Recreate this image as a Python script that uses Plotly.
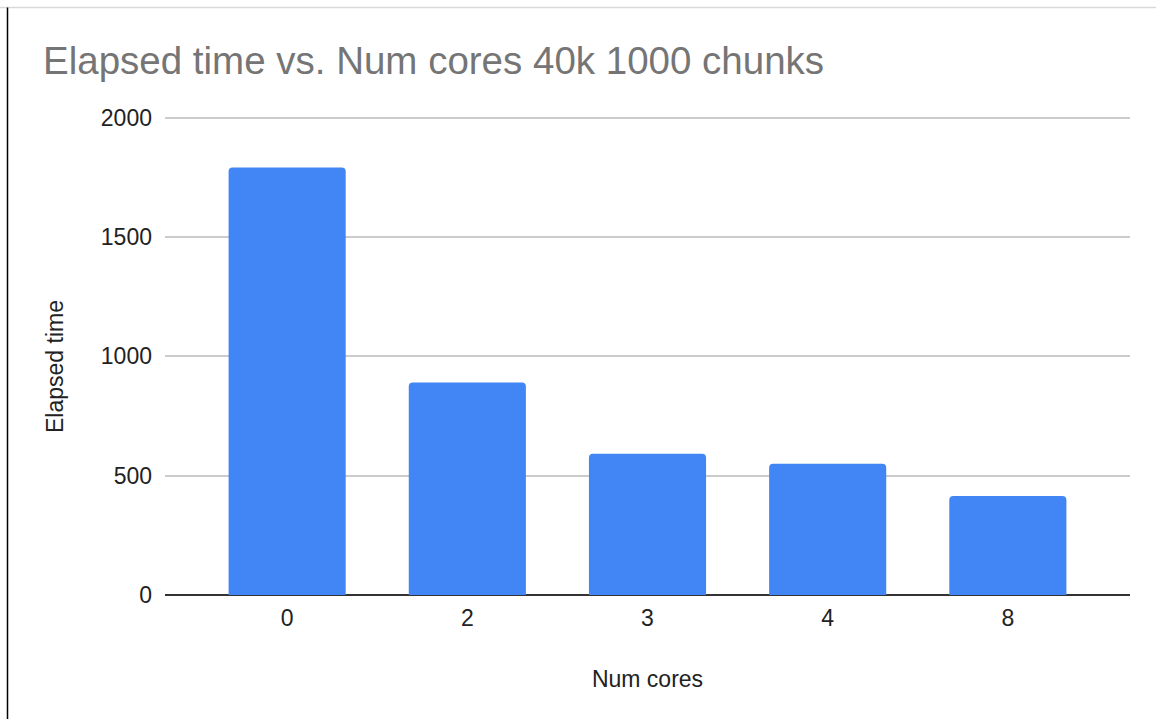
import plotly.graph_objects as go

# ---- data ----
num_cores = ["0", "2", "3", "4", "8"]
elapsed_time = [1792, 891, 592, 550, 415]
y_ticks = [0, 500, 1000, 1500, 2000]

W, H = 1156, 719
ML, MR, MT, MB = 165, 26, 115, 124
pw = W - ML - MR
ph = H - MT - MB

fig = go.Figure(
    go.Bar(
        x=num_cores,
        y=elapsed_time,
        marker=dict(color="#4285F4", line=dict(width=0)),
        width=0.65,
    )
)

font_family = "Arial, Liberation Sans, sans-serif"


def px_to_paper_x(px):
    return (px - ML) / pw


def px_to_paper_y(py):
    return (H - MB - py) / ph


fig.update_layout(
    width=W,
    height=H,
    margin=dict(l=ML, r=MR, t=MT, b=MB, autoexpand=False),
    paper_bgcolor="white",
    plot_bgcolor="white",
    barcornerradius=4,
    showlegend=False,
    font=dict(family=font_family, color="#222222", size=23),
    title=dict(
        text="Elapsed time vs. Num cores 40k 1000 chunks",
        font=dict(family=font_family, size=38.5, color="#757575"),
        xref="container", yref="container",
        x=43 / W, y=1 - 61 / H,
        xanchor="left", yanchor="middle",
    ),
    xaxis=dict(
        type="category",
        range=[-0.678, 4.678],
        showgrid=False,
        showline=False,
        zeroline=False,
        ticks="",
        ticklabelstandoff=7,
        tickfont=dict(size=23, color="#222222"),
        title=dict(text="Num cores", font=dict(size=23, color="#222222"), standoff=40),
        fixedrange=True,
    ),
    yaxis=dict(
        range=[0, 2012],
        tickvals=y_ticks,
        showgrid=True,
        gridcolor="#cccccc",
        gridwidth=1.5,
        zeroline=True,
        zerolinecolor="#333333",
        zerolinewidth=1.5,
        ticks="",
        ticklabelstandoff=12,
        tickfont=dict(size=23, color="#222222"),
        fixedrange=True,
    ),
    annotations=[
        dict(
            text="Elapsed time",
            textangle=-90,
            xref="paper", yref="paper",
            x=px_to_paper_x(55), y=px_to_paper_y(367),
            xanchor="center", yanchor="middle",
            showarrow=False,
            font=dict(size=23, color="#222222"),
        )
    ],
)

# frame lines (screenshot border): top light-gray line and left black line
fig.add_shape(type="line", xref="paper", yref="paper",
              x0=px_to_paper_x(0), x1=px_to_paper_x(W),
              y0=px_to_paper_y(7.5), y1=px_to_paper_y(7.5),
              line=dict(color="#d9d9d9", width=1.5), layer="above")
fig.add_shape(type="line", xref="paper", yref="paper",
              x0=px_to_paper_x(7.5), x1=px_to_paper_x(7.5),
              y0=px_to_paper_y(7.5), y1=px_to_paper_y(H),
              line=dict(color="#000000", width=1.5), layer="above")

fig.write_html(
    "out.html",
    config=dict(displayModeBar=False),
    post_script="document.body.style.margin='0';document.body.style.overflow='hidden';",
)
